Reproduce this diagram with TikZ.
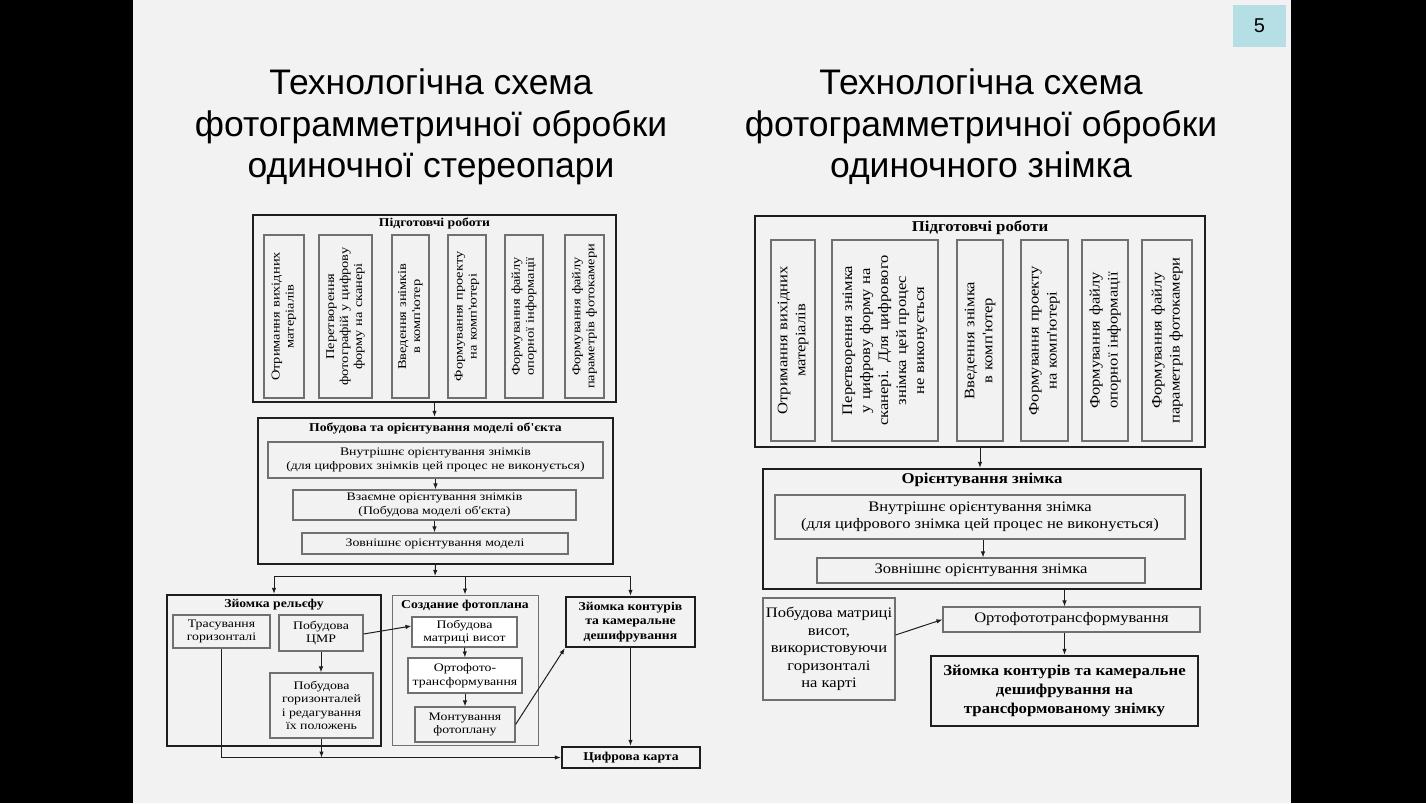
\documentclass[tikz,border=0pt]{standalone}
\usepackage{fontspec}
\setmainfont{Liberation Serif}
\newfontfamily\slidefont{Liberation Sans}
\newfontfamily\diagLfont[FakeStretch=1.2]{Liberation Serif}
\newfontfamily\diagLhead[FakeStretch=1.14]{Liberation Serif}
\newfontfamily\diagRfont[FakeStretch=1.14]{Liberation Serif}
\newfontfamily\diagRhead[FakeStretch=1.12]{Liberation Serif}
\usetikzlibrary{arrows.meta}
\usetikzlibrary{positioning}
\definecolor{slideGray}{RGB}{242,242,242}
\definecolor{boxGray}{RGB}{112,112,112}
\definecolor{pageTeal}{RGB}{182,222,229}
\definecolor{lineDark}{RGB}{30,30,30}

\tikzset{
  outer/.style   = {draw=lineDark, line width=2.4pt, fill=slideGray, inner sep=0pt},
  group/.style   = {draw=boxGray, line width=1pt, fill=slideGray, inner sep=0pt},
  box/.style     = {draw=boxGray, line width=1.1pt, fill=slideGray, align=center, inner sep=1pt},
  boxL/.style    = {box, font=\diagLfont\fontsize{11.5}{13.5}\selectfont},
  boxR/.style    = {box, font=\diagRfont\fontsize{14.5}{17.5}\selectfont},
  vboxL/.style   = {box, font=\diagLfont\fontsize{12}{14}\selectfont, rotate=90, minimum width=163pt, text width=157pt},
  vboxR/.style   = {boxR, font=\diagRfont\fontsize{14.5}{18}\selectfont, rotate=90, minimum width=201pt, text width=195pt},
  headL/.style   = {font=\diagLhead\bfseries\fontsize{12}{14.5}\selectfont, inner sep=0pt, align=center},
  headR/.style   = {font=\diagRhead\bfseries\fontsize{15}{19}\selectfont, inner sep=0pt, align=center},
  titletext/.style = {font=\slidefont\fontsize{35.5}{41.5}\selectfont, align=center, inner sep=0pt},
  arr/.style     = {-{Latex[length=6pt,width=4.5pt]}, line width=1pt, draw=lineDark},
  ln/.style      = {line width=1pt, draw=lineDark},
}

\begin{document}
\begin{tikzpicture}[x=1pt, y=-1pt]

  \useasboundingbox (0,0) rectangle (1426,803);
  \fill[black] (0,0) rectangle (1426,803);
  \fill[slideGray] (133,0) rectangle (1291,803);

  \node[fill=pageTeal, minimum width=53pt, minimum height=42pt,
        font=\slidefont\fontsize{20}{24}\selectfont] (pagenum) at (1259.5,26) {5};

  \node[titletext] (titleL) at (431,127) {Технологічна схема\\фотограмметричної обробки\\одиночної стереопари};
  \node[titletext] (titleR) at (981,127) {Технологічна схема\\фотограмметричної обробки\\одиночного знімка};

  % ---- stereo pair ----
  \node[outer, minimum width=363pt, minimum height=187pt] (prepL) at (434.5,308.5) {};
  \node[headL, below=4pt of prepL.north] (prepLt) {Підготовчі роботи};
  \foreach \n/\x/\w/\t in {
      L1/284/40/{Отримання вихідних\\матеріалів},
      L2/345.5/53/{Перетворення\\фотографій у цифрову\\форму на сканері},
      L3/410.5/37/{Введення знімків\\в комп'ютер},
      L4/467/38/{Формування проекту\\на комп'ютері},
      L5/524/38/{Формування файлу\\опорної інформації},
      L6/584.5/39/{Формування файлу\\параметрів фотокамери}}{
    \node[vboxL, minimum height=\w pt] (\n) at (\x,316.5) {\t};
  }

  \node[outer, minimum width=355pt, minimum height=146pt] (modelL) at (435.5,491) {};
  \node[headL, below=6pt of modelL.north] (modelLt) {Побудова та орієнтування моделі об'єкта};
  \node[boxL, minimum width=335pt, minimum height=36pt] (innerL) at (435.5,460)
    {Внутрішнє орієнтування знімків\\(для цифрових знімків цей процес не виконується)};
  \node[boxL, minimum width=283pt, minimum height=30pt] (mutualL) at (434.5,505)
    {Взаємне орієнтування знімків\\(Побудова моделі об'єкта)};
  \node[boxL, minimum width=266pt, minimum height=21pt] (outerL) at (435,543.5)
    {Зовнішнє орієнтування моделі};

  \node[outer, minimum width=214pt, minimum height=151pt] (relief) at (274,670.5) {};
  \node[headL, below=5pt of relief.north] (reliefT) {Зйомка рельєфу};
  \node[boxL, minimum width=97pt, minimum height=33pt] (trace) at (221.5,631.5) {Трасування\\горизонталі};
  \node[boxL, minimum width=84pt, minimum height=36pt] (dem) at (321,633) {Побудова\\ЦМР};
  \node[boxL, minimum width=103pt, minimum height=65pt] (isolines) at (321.5,705.5)
    {Побудова\\горизонталей\\і редагування\\їх положень};

  \node[group, minimum width=146pt, minimum height=150pt] (photoplan) at (465,670) {};
  \node[headL, below=5pt of photoplan.north] (photoplanT) {Создание фотоплана};
  \node[boxL, fill=white, minimum width=105pt, minimum height=30pt] (matrix) at (464.5,632) {Побудова\\матриці висот};
  \node[boxL, fill=white, minimum width=114pt, minimum height=35pt] (ortho) at (465,675.5) {Ортофото-\\трансформування};
  \node[boxL, minimum width=100pt, minimum height=35pt] (mosaic) at (465,724.5) {Монтування\\фотоплану};

  \node[outer, headL, inner sep=0pt,
        minimum width=129pt, minimum height=50pt] (survey) at (630.5,622)
    {Зйомка контурів\\та камеральне\\дешифрування};
  \node[outer, headL, inner sep=0pt,
        minimum width=138pt, minimum height=21pt] (digmap) at (631,757.5) {Цифрова карта};

  \coordinate (splitL) at (435,576);
  \draw[arr] (prepL.south) -- (prepL.south |- modelL.north);
  \draw[arr] (innerL.south) -- (innerL.south |- mutualL.north);
  \draw[arr] (mutualL.south) -- (mutualL.south |- outerL.north);
  \draw[arr] (modelL.south) -- (splitL);
  \draw[ln] (relief.north |- splitL) -- (survey.north |- splitL);
  \draw[arr] (relief.north |- splitL) -- (relief.north);
  \draw[arr] (photoplan.north |- splitL) -- (photoplan.north);
  \draw[arr] (survey.north |- splitL) -- (survey.north);
  \draw[arr] (dem.south) -- (dem.south |- isolines.north);
  \draw[arr] ([yshift=-1pt]dem.east) -- ([yshift=6pt]matrix.west);
  \draw[arr] (matrix.south) -- (ortho.north);
  \draw[arr] (ortho.south) -- (mosaic.north);
  \draw[arr] (mosaic.east) -- (survey.south west);
  \draw[arr] (survey.south) -- (survey.south |- digmap.north);
  \draw[arr] (trace.south) -- (trace.south |- digmap.west) -- (digmap.west);
  \draw[arr] (isolines.south) -- (isolines.south |- digmap.west);

  % ---- single photo ----
  \node[outer, minimum width=450pt, minimum height=231pt] (prepR) at (980,331.5) {};
  \node[headR, below=6pt of prepR.north] (prepRt) {Підготовчі роботи};
  \foreach \n/\x/\w/\t in {
      R1/793/44/{Отримання вихідних\\матеріалів},
      R2/885/106/{Перетворення знімка\\у цифрову форму на\\сканері. Для цифрового\\знімка цей процес\\не виконується},
      R3/980/46/{Введення знімка\\в комп'ютер},
      R4/1044.5/47/{Формування проекту\\на комп'ютері},
      R5/1105/46/{Формування файлу\\опорної інформації},
      R6/1167/50/{Формування файлу\\параметрів фотокамери}}{
    \node[vboxR, minimum height=\w pt] (\n) at (\x,340.5) {\t};
  }

  \node[outer, minimum width=438pt, minimum height=120pt] (orientR) at (982,529) {};
  \node[headR, below=5pt of orientR.north] (orientRt) {Орієнтування знімка};
  \node[boxR, minimum width=410pt, minimum height=44pt] (innerR) at (980,517)
    {Внутрішнє орієнтування знімка\\(для цифрового знімка цей процес не виконується)};
  \node[boxR, minimum width=328pt, minimum height=25pt] (outerR) at (981,570.5)
    {Зовнішнє орієнтування знімка};

  \node[boxR, minimum width=132pt, minimum height=102pt] (matrixR) at (829,649)
    {Побудова матриці\\висот,\\використовуючи\\горизонталі\\на карті};
  \node[boxR, minimum width=257pt, minimum height=25pt] (orthoR) at (1071.5,619.5) {Ортофототрансформування};
  \node[outer, headR, inner sep=0pt,
        minimum width=267pt, minimum height=70pt] (surveyR) at (1064.5,691)
    {Зйомка контурів та камеральне\\дешифрування на\\трансформованому знімку};

  \draw[arr] (prepR.south) -- (prepR.south |- orientR.north);
  \draw[arr] ([xshift=3pt]innerR.south) -- ([xshift=3pt]innerR.south |- outerR.north);
  \draw[arr] (orientR.south -| surveyR) -- (orthoR.north -| surveyR);
  \draw[arr] ([yshift=14pt]matrixR.east) -- (orthoR.west);
  \draw[arr] (orthoR.south -| surveyR) -- (surveyR.north);

\end{tikzpicture}
\end{document}
